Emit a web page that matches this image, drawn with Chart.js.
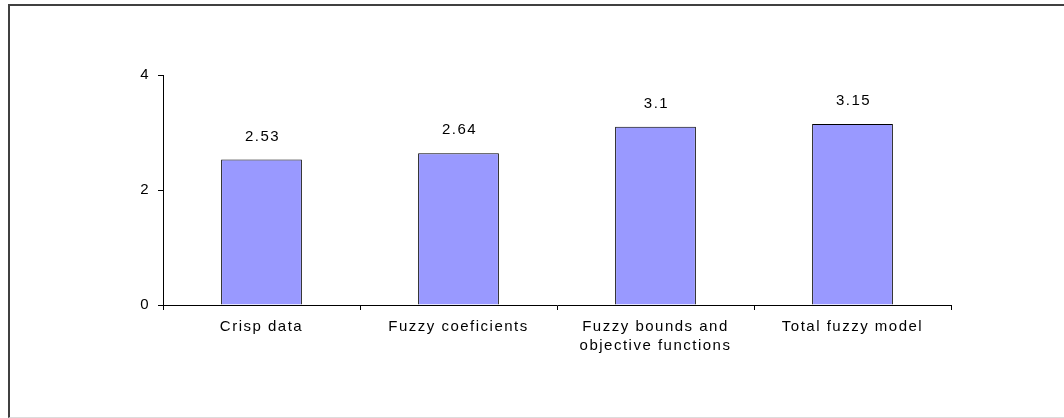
<!DOCTYPE html>
<html>
<head>
<meta charset="utf-8">
<script src="https://cdn.jsdelivr.net/npm/chart.js@4"></script>
<style>
  html, body { margin: 0; padding: 0; background: #fff; overflow: hidden; }
  #frame {
    position: absolute; left: 8px; top: 4px; width: 1100px; height: 411px;
    border-left: 2px solid #404040; border-top: 2px solid #404040; border-bottom: 1px solid #dcdcdc;
  }
  #wrap { position: absolute; left: 0; top: 0; width: 1064px; height: 418px; }
</style>
</head>
<body>
<div id="frame"></div>
<div id="wrap"><canvas id="chart"></canvas></div>
<script>
'use strict';

// #region ***  Data                                      ***********
const categories = ['Crisp data', 'Fuzzy coeficients', ['Fuzzy bounds and', 'objective functions'], 'Total fuzzy model'];
const values = [2.53, 2.64, 3.1, 3.15];
const yTicks = [0, 2, 4];
// #endregion

const textFont = { family: '"Liberation Sans", Arial, sans-serif', size: 15, lineHeight: 1.3 };
const letterGap = '1.5px';

// canvas letter spacing so labels look like the wide bitmap text of the original
const spacing = {
  id: 'spacing',
  beforeDraw: function (chart) { chart.ctx.letterSpacing = letterGap; }
};

const valueLabels = {
  id: 'valueLabels',
  afterDatasetsDraw: function (chart) {
    const ctx = chart.ctx;
    ctx.save();
    ctx.letterSpacing = letterGap;
    ctx.font = `${textFont.size}px ${textFont.family}`;
    ctx.fillStyle = '#000';
    ctx.textAlign = 'center';
    ctx.textBaseline = 'alphabetic';
    chart.getDatasetMeta(0).data.forEach(function (bar, i) {
      ctx.fillText(String(values[i]), bar.x + 1, bar.y - 19);
    });
    ctx.restore();
  }
};

const init = function () {
  const ctx = document.getElementById('chart').getContext('2d');
  new Chart(ctx, {
    type: 'bar',
    data: {
      labels: categories,
      datasets: [{
        data: values,
        backgroundColor: '#9999ff',
        borderColor: '#000',
        borderWidth: 1,
        categoryPercentage: 1,
        barPercentage: 0.41
      }]
    },
    options: {
      responsive: true,
      maintainAspectRatio: false,
      animation: false,
      layout: { padding: { top: 75, right: 113, left: 0, bottom: 0 } },
      plugins: { legend: { display: false }, tooltip: { enabled: false } },
      scales: {
        x: {
          offset: true,
          grid: { offset: true, drawOnChartArea: false, drawTicks: true, tickLength: 5, color: '#000' },
          border: { color: '#000', width: 1 },
          ticks: { color: '#000', font: textFont, padding: 7, maxRotation: 0, autoSkip: false },
          afterFit: function (scale) { scale.height = 113; }
        },
        y: {
          min: 0,
          max: 4,
          afterBuildTicks: function (scale) { scale.ticks = yTicks.map(v => ({ value: v })); },
          grid: { drawOnChartArea: false, drawTicks: true, tickLength: 5, color: '#000' },
          border: { color: '#000', width: 1 },
          ticks: { color: '#000', font: textFont, padding: 8 },
          afterFit: function (scale) { scale.width = 163; }
        }
      }
    },
    plugins: [spacing, valueLabels]
  });
};

document.addEventListener('DOMContentLoaded', init);
</script>
</body>
</html>
